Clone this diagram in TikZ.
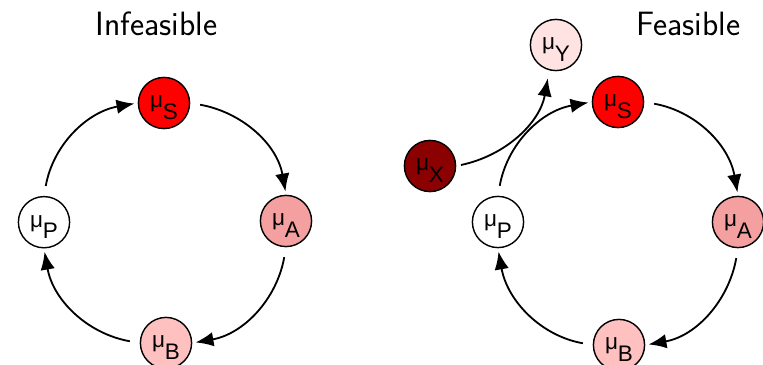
\documentclass[tikz,border=0pt]{standalone}
\usepackage{fontspec}
\usepackage{tikz}
\usetikzlibrary{arrows.meta}
\newfontfamily\nodefont{Liberation Sans}
\newcommand{\mulab}[1]{μ\raisebox{-0.28cm}{#1}}
\definecolor{redS}{RGB}{255,0,0}
\definecolor{redA}{RGB}{245,160,160}
\definecolor{redB}{RGB}{255,192,192}
\definecolor{redX}{RGB}{139,0,0}
\definecolor{redY}{RGB}{255,226,226}

\begin{document}
\begin{tikzpicture}[>=Latex,
    state/.style={draw,circle,line width=1pt,minimum size=1.28cm,inner sep=0pt,
      font=\nodefont\fontsize{16}{19}\selectfont,text height=15pt,text depth=8pt},
    flow/.style={-{Latex[length=0.45cm,width=0.36cm]},line width=1.3pt,
      shorten <=0.25cm,shorten >=0.08cm},
    heading/.style={anchor=base,font=\sffamily\fontsize{24}{28}\selectfont}]
    \useasboundingbox (0,0) rectangle (19.075,9.125);
    % infeasible cycle
    \node[heading] (tl) at (3.91,8.225) {Infeasible};
    \node[state,fill=redS] (lS) at (4.10,6.55) {\mulab{S}};
    \node[state,fill=redA] (lA) at (7.15,3.60) {\mulab{A}};
    \node[state,fill=redB] (lB) at (4.15,0.55) {\mulab{B}};
    \node[state,fill=white] (lP) at (1.10,3.57) {\mulab{P}};
    \draw[flow] (lS.east) to[out=-10,in=100] (lA.north);
    \draw[flow] (lA.south) to[out=-100,in=10] (lB.east);
    \draw[flow] (lB.west) to[out=170,in=-80] (lP.south);
    \draw[flow] (lP.north) to[out=80,in=190] (lS.west);
    % feasible cycle
    \node[heading] (tr) at (17.21,8.225) {Feasible};
    \node[state,fill=redY] (rY) at (13.90,8.00) {\mulab{Y}};
    \node[state,fill=redS] (rS) at (15.45,6.575) {\mulab{S}};
    \node[state,fill=redX] (rX) at (10.75,4.975) {\mulab{X}};
    \node[state,fill=white] (rP) at (12.45,3.575) {\mulab{P}};
    \node[state,fill=redA] (rA) at (18.45,3.575) {\mulab{A}};
    \node[state,fill=redB] (rB) at (15.475,0.50) {\mulab{B}};
    \draw[flow] (rS.east) to[out=-10,in=100] (rA.north);
    \draw[flow] (rA.south) to[out=-100,in=10] (rB.east);
    \draw[flow] (rB.west) to[out=170,in=-80] (rP.south);
    \draw[flow] (rP.north) to[out=80,in=190] (rS.west);
    \draw[flow,shorten <=0.12cm,shorten >=0.2cm] (rX.east) to[out=12,in=-100] (rY.-105);
\end{tikzpicture}
\end{document}
